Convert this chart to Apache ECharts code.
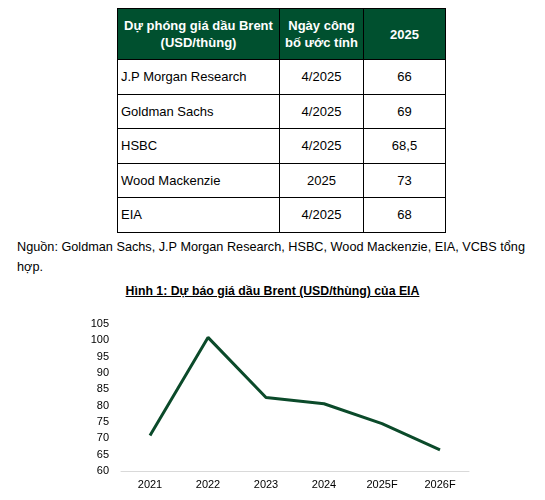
<!DOCTYPE html>
<html>
<head>
<meta charset="utf-8">
<script src="https://cdn.jsdelivr.net/npm/echarts@6/dist/echarts.min.js"></script>
<style>
  body { margin: 0; width: 545px; height: 500px; background: #fff; font-family: "Liberation Sans", Arial, sans-serif; position: relative; overflow: hidden; }
  /* bảng dự phóng */
  .tbl { position: absolute; left: 117px; top: 8px; border-collapse: collapse; font-size: 13px; color: #000; }
  .tbl td, .tbl th { border: 1px solid #000; height: 33.5px; padding: 0 3px; }
  .tbl th { background: #00502f; color: #fff; font-weight: bold; height: 50px; text-align: center; line-height: 17px; }
  .tbl td.c { text-align: center; }
  .src { position: absolute; left: 17px; top: 237px; width: 520px; font-size: 12.7px; line-height: 20px; color: #000; }
  .ttl { position: absolute; left: 0; width: 545px; top: 284px; text-align: center; font-size: 12.3px; font-weight: bold; text-decoration: underline; color: #000; }
  #line { position: absolute; left: 0; top: 300px; width: 545px; height: 200px; }
</style>
</head>
<body>
<table class="tbl" id="tbl"></table>
<div class="src">Nguồn: Goldman Sachs, J.P Morgan Research, HSBC, Wood Mackenzie, EIA, VCBS tổng hợp.</div>
<div class="ttl">Hình 1: Dự báo giá dầu Brent (USD/thùng) của EIA</div>
<div id="line"></div>
<script>
// dữ liệu bảng
const headers = ['Dự phóng giá dầu Brent<br>(USD/thùng)', 'Ngày công<br>bố ước tính', '2025'];
const orgs = ['J.P Morgan Research', 'Goldman Sachs', 'HSBC', 'Wood Mackenzie', 'EIA'];
const dates = ['4/2025', '4/2025', '4/2025', '2025', '4/2025'];
const prices2025 = ['66', '69', '68,5', '73', '68'];

// dữ liệu biểu đồ EIA
const years = ['2021', '2022', '2023', '2024', '2025F', '2026F'];
const brent = [70.9, 100.9, 82.5, 80.6, 74.5, 66.5];

const widths = [162, 84, 82];
let html = '<tr>' + headers.map((h, i) => `<th style="width:${widths[i] - 7}px">${h}</th>`).join('') + '</tr>';
for (let i = 0; i < orgs.length; i++) {
  html += `<tr><td>${orgs[i]}</td><td class="c">${dates[i]}</td><td class="c">${prices2025[i]}</td></tr>`;
}
document.getElementById('tbl').innerHTML = html;

const chart = echarts.init(document.getElementById('line'));
chart.setOption({
  animation: false,
  textStyle: { fontFamily: 'Liberation Sans' },
  grid: { left: 121, right: 76, top: 24, bottom: 29 },
  xAxis: {
    type: 'category',
    data: years,
    axisLine: { lineStyle: { color: '#d9d9d9' } },
    axisTick: { show: false },
    axisLabel: { color: '#000', fontSize: 11, margin: 8 }
  },
  yAxis: {
    type: 'value',
    min: 60,
    max: 105,
    interval: 5,
    axisLine: { show: false },
    axisTick: { show: false },
    splitLine: { show: false },
    axisLabel: { color: '#000', fontSize: 11, margin: 12 }
  },
  series: [{
    type: 'line',
    data: brent,
    symbol: 'none',
    lineStyle: { color: '#0b4a2a', width: 3 }
  }]
});
</script>
</body>
</html>
